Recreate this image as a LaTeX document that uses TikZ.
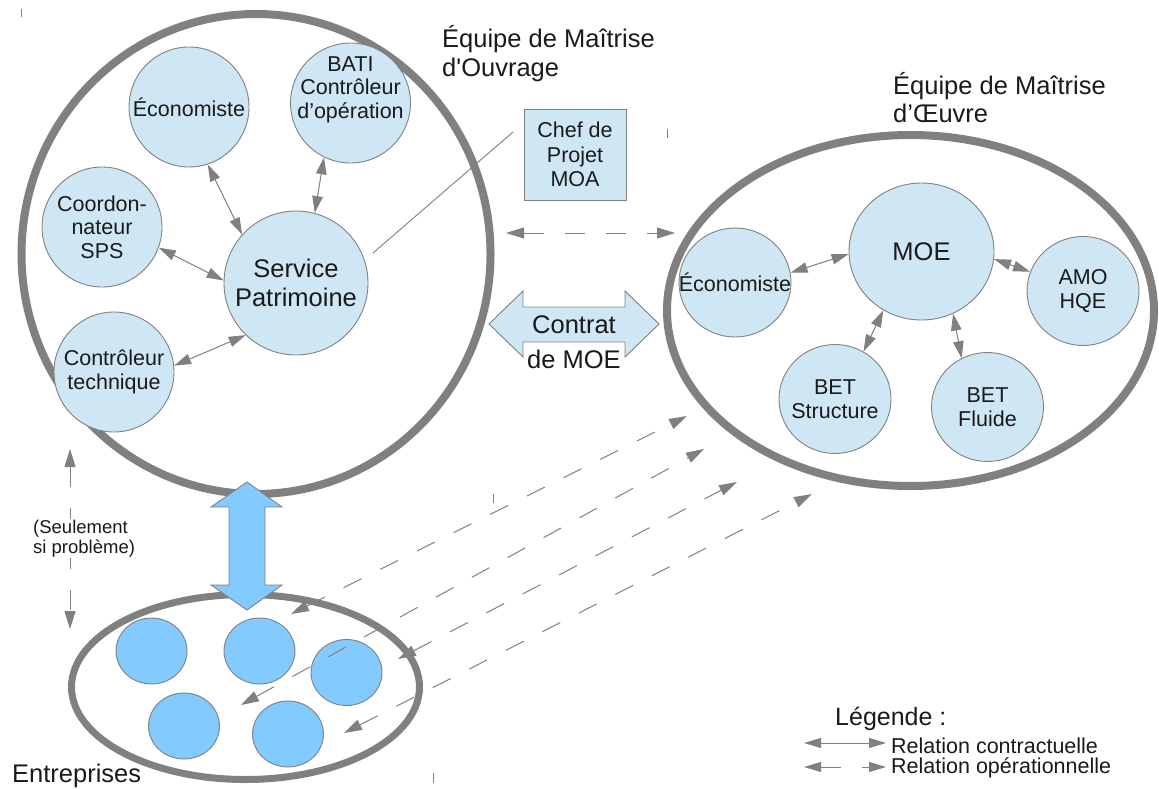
\documentclass[tikz,border=0pt]{standalone}
\usepackage{fontspec}
\setmainfont{Liberation Sans}
\usetikzlibrary{arrows.meta,shapes.geometric}
\definecolor{ringgray}{HTML}{808080}
\definecolor{pale}{HTML}{CFE7F5}
\definecolor{sky}{HTML}{83CAFF}
\definecolor{ink}{HTML}{1A1A1A}
\begin{document}
\begin{tikzpicture}[x=1pt,y=-1pt,
  ring/.style={ellipse,draw=ringgray,line width=8pt,inner sep=0pt},
  pcirc/.style={circle,draw=ringgray,line width=0.9pt,fill=pale,inner sep=0pt,minimum size=120pt,align=center,text=ink,font=\fontsize{21.5}{23.5}\selectfont},
  pell/.style={ellipse,draw=ringgray,line width=0.9pt,fill=pale,inner sep=0pt,minimum width=112pt,minimum height=109pt},
  bcirc/.style={ellipse,draw=ringgray,line width=0.9pt,fill=sky,inner sep=0pt,minimum width=71pt,minimum height=66pt},
  ptext/.style={align=center,inner sep=0pt,text=ink,font=\fontsize{21.5}{23.5}\selectfont},
  big/.style={inner sep=0pt,text=ink,font=\fontsize{25.5}{29}\selectfont},
  basetext/.style={anchor=base west,inner sep=0pt,text=ink},
  rel/.style={draw=ringgray,line width=1pt,>={Triangle[length=17pt,width=10.5pt]},<->},
  oprel/.style={draw=ringgray,line width=1pt,dash pattern=on 20pt off 21pt,>={Triangle[length=18pt,width=11pt]},<->},
  legrel/.style={draw=ringgray,line width=1pt,>={Triangle[length=17pt,width=10pt]},<->},
  shapebox/.style={draw=ringgray,line width=0.9pt},
  tick/.style={draw=ringgray,line width=0.8pt}
]
\useasboundingbox (0,0) rectangle (1159,789);

% containers
\node[ring,minimum width=469pt,minimum height=480pt] (moa) at (256,254) {};
\node[ring,minimum width=487pt,minimum height=351pt] (moering) at (910.5,310.5) {};
\node[ring,line width=7pt,minimum width=348pt,minimum height=185pt] (ent) at (245.5,687) {};

% titles
\node[basetext,font=\fontsize{25.5}{29}\selectfont] (moaT1) at (442,48) {Équipe de Maîtrise};
\node[basetext,font=\fontsize{25.5}{29}\selectfont] (moaT2) at (442,77) {d\textquotesingle Ouvrage};
\node[basetext,font=\fontsize{25.5}{29}\selectfont] (moeT1) at (893,95) {Équipe de Maîtrise};
\node[basetext,font=\fontsize{25.5}{29}\selectfont] (moeT2) at (893,123) {d’Œuvre};
\node[basetext,font=\fontsize{25.5}{29}\selectfont] (entT) at (12,782) {Entreprises};

% MOA team
\node[pcirc] (eco) at (189,107) {Économiste};
\node[pcirc] (bati) at (350.5,103) {};
\node[ptext] (batiT) at (350.5,89.5) {BATI\\Contrôleur\\d’opération};
\node[pcirc] (sps) at (102,227) {Coordon-\\nateur\\SPS};
\node[pcirc] (ct) at (114,372) {Contrôleur\\technique};
\node[pcirc,minimum size=144pt,font=\fontsize{25.5}{29}\selectfont] (sp) at (296,283) {Service\\Patrimoine};

\draw[rel] (eco.-72) -- (sp.138);
\draw[rel] (bati.-116) -- (sp.75);
\draw[rel] (sps.-20) -- (sp.178);
\draw[rel] (ct.6) -- (sp.-134);

% Chef de projet
\node[rectangle,draw=ringgray,line width=0.9pt,fill=pale,minimum width=102pt,minimum height=91pt,inner sep=0pt,align=center,text=ink,font=\fontsize{21.5}{24.5}\selectfont] (chef) at (575,154.5) {Chef de\\Projet\\MOA};
\coordinate (cl1) at (513,132);
\coordinate (cl2) at (373,253);
\draw[draw=ringgray,line width=0.9pt] (cl1) -- (cl2);

% MOE team
\node[pell,minimum width=145pt,minimum height=137pt] (moe) at (921.5,251.5) {};
\node[big] (moeTxt) at (moe.center) {MOE};
\node[pell] (reco) at (735,282.5) {};
\node[ptext] (recoT) at (reco.center) {Économiste};
\node[pell] (amo) at (1083,291) {};
\node[ptext] (amoT) at (amo.center) {AMO\\HQE};
\node[pell] (bets) at (835,399) {};
\node[ptext] (betsT) at (bets.center) {BET\\Structure};
\node[pell] (betf) at (987.5,407) {};
\node[ptext] (betfT) at (betf.center) {BET\\Fluide};

\draw[rel] (reco.10) -- (moe.182);
\draw[rel] (moe.-6) -- (amo.160);
\draw[rel] (moe.-123) -- (bets.59);
\draw[rel] (moe.-63) -- (betf.118);

% operational link MOA - MOE
\coordinate (hl) at (506,233);
\coordinate (hr) at (675,233);
\draw[oprel] (hl) -- (hr);

% Contrat de MOE arrow
\draw[shapebox,fill=pale] (489,324) -- (523,291) -- (523,307) -- (625,307) -- (625,291) -- (659,324) -- (625,357) -- (625,342) -- (523,342) -- (523,357) -- cycle;
\node[anchor=base,big] (ctr1) at (574,333) {Contrat};
\node[anchor=base,big] (ctr2) at (574,368) {de MOE};

% enterprises
\node[bcirc] (e1) at (151.5,651) {};
\node[bcirc] (e2) at (259.5,651) {};
\node[bcirc] (e3) at (346.5,672.5) {};
\node[bcirc] (e4) at (184,726) {};
\node[bcirc] (e5) at (288,734) {};

% big contractual arrow MOA - enterprises
\draw[shapebox,fill=sky] (247,482) -- (282,507) -- (265,507) -- (265,585) -- (282,585) -- (247,610) -- (211,585) -- (229,585) -- (229,507) -- (211,507) -- cycle;

% operational links enterprises - MOE
\coordinate (a1) at (291,614); \coordinate (b1) at (687,416);
\coordinate (a2) at (241,705); \coordinate (b2) at (704,449);
\coordinate (a3) at (398,659); \coordinate (b3) at (737,482);
\coordinate (a4) at (344,733); \coordinate (b4) at (812,494);
\draw[oprel] (a1) -- (b1);
\draw[oprel] (a2) -- (b2);
\draw[oprel] (a3) -- (b3);
\draw[oprel] (a4) -- (b4);

% only if problem
\coordinate (vt) at (70,449);
\coordinate (vb) at (70,629);
\draw[oprel] (vt) -- (vb);
\node[basetext,fill=white,inner sep=1pt,font=\fontsize{18.5}{20.5}\selectfont] (sq1) at (32,533) {(Seulement};
\node[basetext,fill=white,inner sep=1pt,font=\fontsize{18.5}{20.5}\selectfont] (sq2) at (32,553) {si problème)};

% legend
\node[basetext,font=\fontsize{25}{28}\selectfont] (leg) at (835,725) {Légende :};
\coordinate (l1a) at (804,743); \coordinate (l1b) at (886,743);
\coordinate (l2a) at (804,767); \coordinate (l2b) at (886,767);
\draw[legrel] (l1a) -- (l1b);
\draw[legrel,dash pattern=on 20pt off 21pt] (l2a) -- (l2b);
\node[basetext,font=\fontsize{21.5}{22}\selectfont] (leg1) at (891,753) {Relation contractuelle};
\node[basetext,font=\fontsize{21.5}{22}\selectfont] (leg2) at (891,773) {Relation opérationnelle};

% stray marks
\draw[tick] (21,9) -- (21,17);
\draw[tick] (667,129) -- (667,138);
\draw[tick] (433,773) -- (433,783);
\draw[tick] (493,494) -- (493,503);
\end{tikzpicture}
\end{document}
